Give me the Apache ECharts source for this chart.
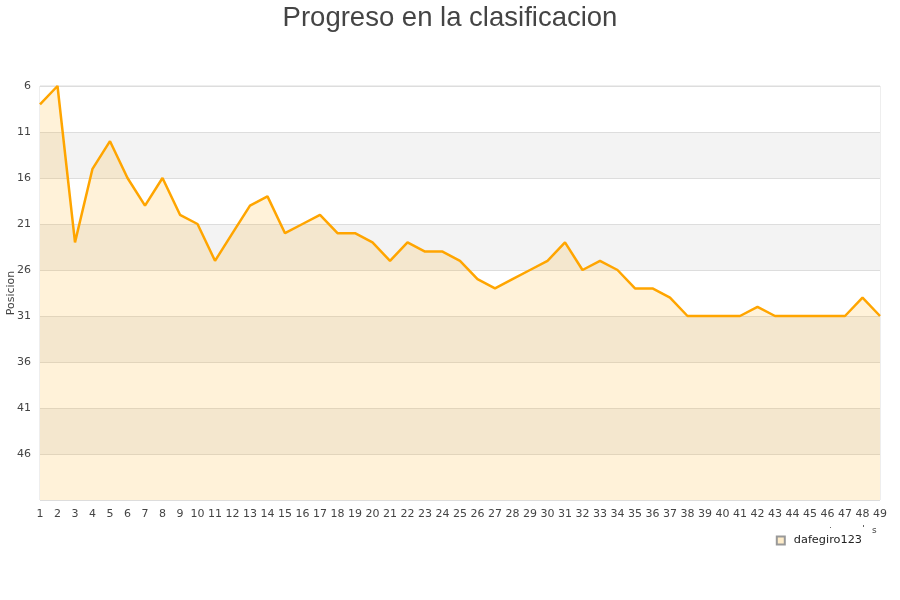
<!DOCTYPE html>
<html>
<head>
<meta charset="utf-8">
<script src="https://cdn.jsdelivr.net/npm/echarts@6/dist/echarts.min.js"></script>
<style>
html,body{margin:0;padding:0;background:#fff;}
#chart{width:900px;height:600px;}
</style>
</head>
<body>
<div id="chart"></div>
<script>
var jornadas = ['1','2','3','4','5','6','7','8','9','10','11','12','13','14','15','16','17','18','19','20','21','22','23','24','25','26','27','28','29','30','31','32','33','34','35','36','37','38','39','40','41','42','43','44','45','46','47','48','49'];
var posiciones = [8,6,23,15,12,16,19,16,20,21,25,22,19,18,22,21,20,22,22,23,25,23,24,24,25,27,28,27,26,25,23,26,25,26,28,28,29,31,31,31,31,30,31,31,31,31,31,29,31];
var seriesName = 'dafegiro123';
var titleText = 'Progreso en la clasificacion';
var yAxisName = 'Posicion';

var chart = echarts.init(document.getElementById('chart'), null, {renderer: 'canvas'});
chart.setOption({
  animation: false,
  backgroundColor: '#ffffff',
  title: {
    text: titleText,
    left: 'center',
    top: -1,
    textStyle: {fontFamily: 'Liberation Sans', fontSize: 27.5, fontWeight: 'normal', color: '#444444'}
  },
  legend: {
    data: [seriesName],
    right: 33,
    top: 530,
    itemWidth: 8,
    itemHeight: 8,
    icon: 'rect',
    textStyle: {fontFamily: 'DejaVu Sans', fontSize: 11.3, color: '#222222', padding: [0, 0, 0, 4]}
  },
  graphic: [
    {type: 'text', left: 872, top: 526, style: {text: 's', font: '9px DejaVu Sans', fill: '#444444'}},
    {type: 'rect', shape: {x: 830, y: 527, width: 1, height: 1}, style: {fill: '#666666'}},
    {type: 'rect', shape: {x: 863, y: 525, width: 1, height: 2}, style: {fill: '#666666'}}
  ],
  grid: {left: 40, right: 20, top: 86, bottom: 100, outerBoundsMode: 'none', containLabel: false, show: true, borderColor: '#dddddd', borderWidth: 1, backgroundColor: 'transparent'},
  xAxis: {
    type: 'category',
    data: jornadas,
    boundaryGap: false,
    axisLine: {show: false},
    axisTick: {show: false},
    axisLabel: {interval: 0, fontFamily: 'DejaVu Sans', fontSize: 11, color: '#444444', margin: 9},
    splitLine: {show: false}
  },
  yAxis: {
    type: 'value',
    inverse: true,
    min: 6,
    max: 51,
    interval: 5,
    name: yAxisName,
    nameLocation: 'middle',
    nameGap: 23,
    nameMoveOverlap: false,
    nameTextStyle: {fontFamily: 'DejaVu Sans', fontSize: 11, color: '#444444'},
    axisLine: {show: false},
    axisTick: {show: false},
    axisLabel: {
      fontFamily: 'DejaVu Sans', fontSize: 11, color: '#444444', margin: 9,
      formatter: function (v) { return v === 51 ? '' : String(v); }
    },
    splitLine: {show: true, lineStyle: {color: '#dddddd', width: 1}},
    splitArea: {show: true, areaStyle: {color: ['#ffffff', '#f3f3f3']}}
  },
  series: [{
    name: seriesName,
    type: 'line',
    data: posiciones,
    showSymbol: false,
    symbol: 'none',
    lineStyle: {color: '#ffa500', width: 2.5},
    itemStyle: {color: '#feecc9', borderColor: '#999999', borderWidth: 1},
    areaStyle: {color: 'rgba(255,165,0,0.21)', origin: 'end'}
  }]
});
</script>
</body>
</html>
